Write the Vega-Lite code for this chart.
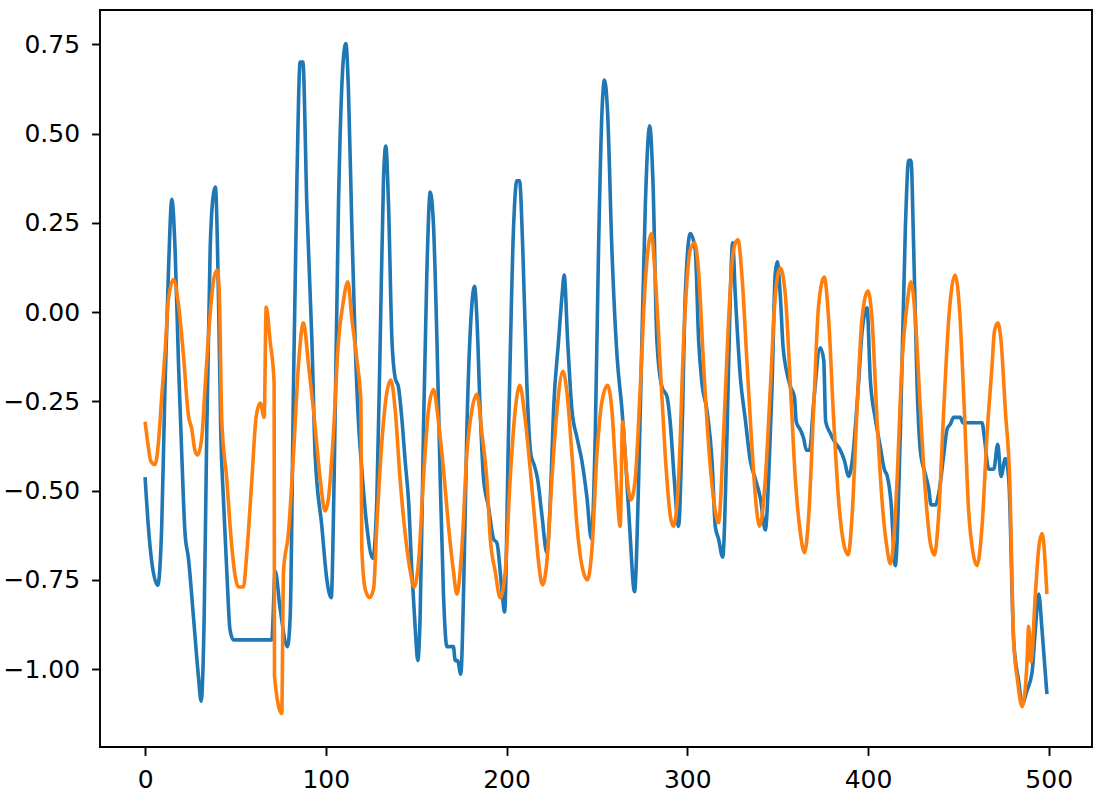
{
  "$schema": "https://vega.github.io/schema/vega-lite/v6.json",
  "width": 992,
  "height": 737,
  "autosize": {"type": "none"},
  "padding": {"left": 100, "top": 10, "right": 16, "bottom": 55},
  "background": "white",
  "config": {
    "view": {"stroke": "black", "strokeWidth": 1.9},
    "axis": {
      "grid": false,
      "domain": false,
      "tickColor": "black",
      "tickWidth": 1.9,
      "tickSize": 8.4,
      "labelFont": "DejaVu Sans",
      "labelFontSize": 25,
      "labelColor": "black",
      "title": null
    }
  },
  "datasets": {
    "blue": [
      {"t":0,"v":-0.462},{"t":1.8,"v":-0.6},{"t":3.7,"v":-0.7},{"t":7,"v":-0.765},{"t":9.2,"v":-0.6},{"t":11,"v":-0.21},{"t":12.9,"v":0.11},{"t":14.8,"v":0.316},{"t":16.6,"v":0.175},{"t":18.5,"v":-0.146},{"t":20.3,"v":-0.4},{"t":22.1,"v":-0.62},{"t":24,"v":-0.69},{"t":26.7,"v":-0.85},{"t":29.5,"v":-1.02},{"t":31,"v":-1.09},{"t":32.7,"v":-0.85},{"t":34.1,"v":-0.34},{"t":36,"v":0.175},{"t":37.8,"v":0.33},{"t":38.9,"v":0.35},{"t":40.6,"v":0.046},{"t":41.9,"v":-0.34},{"t":43.4,"v":-0.53},{"t":45.2,"v":-0.725},{"t":47,"v":-0.89},{"t":48.9,"v":-0.918},{"t":70.1,"v":-0.918},{"t":72,"v":-0.725},{"t":74.7,"v":-0.83},{"t":78.8,"v":-0.937},{"t":80.3,"v":-0.85},{"t":82.1,"v":-0.21},{"t":84,"v":0.368},{"t":85.8,"v":0.7},{"t":87.3,"v":0.7},{"t":89.5,"v":0.3},{"t":92.3,"v":-0.08},{"t":94.1,"v":-0.4},{"t":97.8,"v":-0.6},{"t":100.6,"v":-0.75},{"t":103,"v":-0.8},{"t":104.6,"v":-0.468},{"t":107,"v":0.3},{"t":109.8,"v":0.715},{"t":111.1,"v":0.752},{"t":112.5,"v":0.625},{"t":114.4,"v":0.24},{"t":116.2,"v":-0.08},{"t":118.1,"v":-0.31},{"t":119.9,"v":-0.44},{"t":122.7,"v":-0.6},{"t":126,"v":-0.69},{"t":128.2,"v":-0.53},{"t":130.1,"v":-0.08},{"t":131.9,"v":0.368},{"t":133.2,"v":0.465},{"t":134.7,"v":0.3},{"t":136.6,"v":-0.08},{"t":138.4,"v":-0.185},{"t":140.2,"v":-0.21},{"t":142.1,"v":-0.3},{"t":143.9,"v":-0.417},{"t":145.8,"v":-0.53},{"t":147.6,"v":-0.725},{"t":149.4,"v":-0.88},{"t":150.9,"v":-0.976},{"t":152.2,"v":-0.85},{"t":154,"v":-0.34},{"t":155.9,"v":0.11},{"t":157.8,"v":0.336},{"t":159.6,"v":0.24},{"t":161.5,"v":-0.08},{"t":163.3,"v":-0.468},{"t":165.1,"v":-0.79},{"t":167,"v":-0.937},{"t":170.6,"v":-0.937},{"t":171.6,"v":-0.976},{"t":172.9,"v":-0.976},{"t":174.7,"v":-1.014},{"t":176.2,"v":-0.79},{"t":178,"v":-0.34},{"t":180.8,"v":0.02},{"t":182.3,"v":0.072},{"t":183.6,"v":-0.018},{"t":185.4,"v":-0.275},{"t":187.3,"v":-0.468},{"t":190,"v":-0.545},{"t":192.8,"v":-0.635},{"t":194.7,"v":-0.647},{"t":197.4,"v":-0.776},{"t":198.9,"v":-0.84},{"t":201.1,"v":-0.34},{"t":203.9,"v":0.24},{"t":205.7,"v":0.368},{"t":207.2,"v":0.368},{"t":209,"v":0.175},{"t":211.3,"v":-0.21},{"t":213.5,"v":-0.4},{"t":215.3,"v":-0.428},{"t":217.2,"v":-0.468},{"t":219.6,"v":-0.57},{"t":222.3,"v":-0.674},{"t":224.2,"v":-0.53},{"t":226,"v":-0.275},{"t":228.8,"v":-0.08},{"t":230.7,"v":0.046},{"t":231.9,"v":0.104},{"t":233.8,"v":-0.08},{"t":236.2,"v":-0.275},{"t":239,"v":-0.352},{"t":241.7,"v":-0.417},{"t":244.5,"v":-0.52},{"t":246.9,"v":-0.635},{"t":249.1,"v":-0.34},{"t":250.9,"v":0.175},{"t":252.8,"v":0.56},{"t":254.2,"v":0.65},{"t":255.9,"v":0.56},{"t":258.3,"v":0.175},{"t":261.1,"v":-0.12},{"t":263.9,"v":-0.275},{"t":265.7,"v":-0.4},{"t":268.1,"v":-0.6},{"t":270.8,"v":-0.783},{"t":273.1,"v":-0.468},{"t":274.9,"v":-0.08},{"t":276.8,"v":0.3},{"t":279.2,"v":0.522},{"t":281,"v":0.368},{"t":283.2,"v":-0.08},{"t":286,"v":-0.21},{"t":288.8,"v":-0.237},{"t":290.6,"v":-0.31},{"t":292.8,"v":-0.468},{"t":295.2,"v":-0.6},{"t":297.1,"v":-0.34},{"t":298.9,"v":0.046},{"t":301.7,"v":0.22},{"t":304.4,"v":0.175},{"t":306.3,"v":-0.08},{"t":308.1,"v":-0.198},{"t":310.9,"v":-0.275},{"t":313.7,"v":-0.417},{"t":315.5,"v":-0.6},{"t":317.3,"v":-0.635},{"t":319.6,"v":-0.686},{"t":322,"v":-0.34},{"t":323.8,"v":0.046},{"t":325.1,"v":0.194},{"t":326.6,"v":0.046},{"t":329.4,"v":-0.185},{"t":332.1,"v":-0.3},{"t":334.9,"v":-0.417},{"t":337.7,"v":-0.468},{"t":340.4,"v":-0.52},{"t":343.2,"v":-0.61},{"t":345,"v":-0.468},{"t":346.9,"v":-0.21},{"t":348.7,"v":0.11},{"t":349.8,"v":0.141},{"t":351.5,"v":0.043},{"t":353,"v":-0.097},{"t":354.8,"v":-0.162},{"t":357.1,"v":-0.209},{"t":359.3,"v":-0.237},{"t":360.3,"v":-0.307},{"t":362.6,"v":-0.33},{"t":364.4,"v":-0.354},{"t":365.9,"v":-0.387},{"t":367.7,"v":-0.387},{"t":369.9,"v":-0.256},{"t":373.6,"v":-0.1},{"t":375.5,"v":-0.134},{"t":376.6,"v":-0.307},{"t":379.2,"v":-0.34},{"t":381,"v":-0.359},{"t":384.7,"v":-0.387},{"t":386.9,"v":-0.415},{"t":389.3,"v":-0.46},{"t":391.2,"v":-0.42},{"t":394.9,"v":-0.19},{"t":396.7,"v":-0.056},{"t":399.5,"v":0.012},{"t":401.3,"v":-0.19},{"t":404.1,"v":-0.3},{"t":406.8,"v":-0.377},{"t":409,"v":-0.44},{"t":410.7,"v":-0.46},{"t":412.7,"v":-0.53},{"t":415.1,"v":-0.71},{"t":417.9,"v":-0.34},{"t":420.7,"v":0.24},{"t":422.5,"v":0.425},{"t":423.8,"v":0.425},{"t":425.3,"v":0.175},{"t":427.2,"v":-0.21},{"t":429,"v":-0.39},{"t":431.8,"v":-0.455},{"t":433.6,"v":-0.494},{"t":434.9,"v":-0.54},{"t":437.3,"v":-0.54},{"t":439.2,"v":-0.507},{"t":441.9,"v":-0.4},{"t":443.8,"v":-0.327},{"t":445.6,"v":-0.314},{"t":447.4,"v":-0.295},{"t":451.1,"v":-0.295},{"t":452.6,"v":-0.31},{"t":463.1,"v":-0.31},{"t":464.4,"v":-0.352},{"t":466.8,"v":-0.44},{"t":469.6,"v":-0.44},{"t":471.8,"v":-0.37},{"t":473.6,"v":-0.46},{"t":476,"v":-0.41},{"t":477.9,"v":-0.468},{"t":480.6,"v":-0.92},{"t":483.4,"v":-1.034},{"t":485.3,"v":-1.098},{"t":488,"v":-1.06},{"t":490.8,"v":-1.008},{"t":492.6,"v":-0.89},{"t":494.5,"v":-0.79},{"t":496.3,"v":-0.89},{"t":499,"v":-1.07}
    ],
    "orange": [
      {"t":0,"v":-0.307},{"t":1.8,"v":-0.378},{"t":3.1,"v":-0.417},{"t":5.5,"v":-0.427},{"t":7.4,"v":-0.365},{"t":9.2,"v":-0.237},{"t":11.1,"v":-0.108},{"t":12.9,"v":0.034},{"t":15.7,"v":0.091},{"t":18.5,"v":0.02},{"t":21.2,"v":-0.12},{"t":24,"v":-0.29},{"t":25.8,"v":-0.327},{"t":27.7,"v":-0.39},{"t":29.1,"v":-0.4},{"t":31.4,"v":-0.35},{"t":33.2,"v":-0.21},{"t":36,"v":-0.005},{"t":38.2,"v":0.098},{"t":40,"v":0.118},{"t":41.1,"v":0.046},{"t":42.4,"v":-0.3},{"t":45.2,"v":-0.468},{"t":47,"v":-0.597},{"t":49.8,"v":-0.738},{"t":51.7,"v":-0.77},{"t":54.4,"v":-0.77},{"t":56.3,"v":-0.674},{"t":59.1,"v":-0.468},{"t":61.4,"v":-0.295},{"t":63.7,"v":-0.255},{"t":65.9,"v":-0.295},{"t":67,"v":0.014},{"t":69.2,"v":-0.082},{"t":71.4,"v":-0.198},{"t":71.6,"v":-1.02},{"t":75.6,"v":-1.124},{"t":76.6,"v":-0.725},{"t":79.3,"v":-0.62},{"t":82.1,"v":-0.4},{"t":84.9,"v":-0.146},{"t":87.6,"v":-0.03},{"t":90.4,"v":-0.146},{"t":93.2,"v":-0.275},{"t":96.9,"v":-0.468},{"t":99.6,"v":-0.557},{"t":101.5,"v":-0.52},{"t":104.2,"v":-0.34},{"t":107,"v":-0.08},{"t":109.4,"v":0.02},{"t":112.2,"v":0.085},{"t":114.4,"v":-0.018},{"t":117.2,"v":-0.134},{"t":119.4,"v":-0.25},{"t":119.9,"v":-0.66},{"t":121.8,"v":-0.776},{"t":124.2,"v":-0.8},{"t":126.4,"v":-0.776},{"t":128.2,"v":-0.6},{"t":131,"v":-0.365},{"t":133.8,"v":-0.224},{"t":136,"v":-0.19},{"t":138.4,"v":-0.275},{"t":141.1,"v":-0.468},{"t":143.9,"v":-0.62},{"t":146.7,"v":-0.725},{"t":148.9,"v":-0.77},{"t":151.3,"v":-0.7},{"t":154,"v":-0.468},{"t":156.8,"v":-0.275},{"t":159.6,"v":-0.217},{"t":162.4,"v":-0.31},{"t":165.1,"v":-0.44},{"t":167.9,"v":-0.6},{"t":170.6,"v":-0.725},{"t":172.5,"v":-0.79},{"t":175.3,"v":-0.66},{"t":178,"v":-0.4},{"t":180.8,"v":-0.275},{"t":183.6,"v":-0.23},{"t":186.4,"v":-0.34},{"t":189.1,"v":-0.468},{"t":191,"v":-0.635},{"t":193.7,"v":-0.725},{"t":196.5,"v":-0.8},{"t":199.3,"v":-0.725},{"t":202,"v":-0.468},{"t":204.8,"v":-0.275},{"t":207.3,"v":-0.205},{"t":210.3,"v":-0.3},{"t":213.1,"v":-0.44},{"t":215.9,"v":-0.6},{"t":217.7,"v":-0.7},{"t":219.9,"v":-0.764},{"t":222.3,"v":-0.7},{"t":225.1,"v":-0.468},{"t":227.9,"v":-0.275},{"t":231.2,"v":-0.166},{"t":233.4,"v":-0.224},{"t":236.2,"v":-0.4},{"t":239,"v":-0.6},{"t":241.7,"v":-0.71},{"t":244.8,"v":-0.75},{"t":247.3,"v":-0.66},{"t":250,"v":-0.4},{"t":252.8,"v":-0.25},{"t":255.9,"v":-0.205},{"t":258.3,"v":-0.275},{"t":260.7,"v":-0.468},{"t":262.9,"v":-0.6},{"t":264.2,"v":-0.307},{"t":266.2,"v":-0.44},{"t":268.8,"v":-0.526},{"t":271.2,"v":-0.468},{"t":274,"v":-0.21},{"t":276.8,"v":0.085},{"t":280.1,"v":0.22},{"t":282.3,"v":0.098},{"t":285,"v":-0.146},{"t":287.8,"v":-0.4},{"t":290.6,"v":-0.57},{"t":292.4,"v":-0.6},{"t":295.2,"v":-0.468},{"t":298,"v":-0.08},{"t":301.7,"v":0.175},{"t":304.1,"v":0.194},{"t":306.3,"v":0.11},{"t":309,"v":-0.146},{"t":310.2,"v":-0.25},{"t":312.7,"v":-0.43},{"t":315.5,"v":-0.557},{"t":317.3,"v":-0.59},{"t":320.1,"v":-0.34},{"t":322.9,"v":-0.018},{"t":325.6,"v":0.175},{"t":328.1,"v":0.203},{"t":330.3,"v":0.098},{"t":333.1,"v":-0.146},{"t":335.8,"v":-0.378},{"t":338.2,"v":-0.545},{"t":340,"v":-0.6},{"t":343.2,"v":-0.468},{"t":346,"v":-0.21},{"t":348.7,"v":0.046},{"t":351.5,"v":0.123},{"t":354.3,"v":0.046},{"t":357.1,"v":-0.21},{"t":359.8,"v":-0.468},{"t":362.6,"v":-0.62},{"t":364.9,"v":-0.674},{"t":367.2,"v":-0.57},{"t":369.9,"v":-0.275},{"t":372.7,"v":0.02},{"t":375.8,"v":0.098},{"t":378.2,"v":-0.018},{"t":381,"v":-0.3},{"t":383.8,"v":-0.53},{"t":386.5,"v":-0.647},{"t":389,"v":-0.68},{"t":391.2,"v":-0.57},{"t":393.9,"v":-0.275},{"t":396.7,"v":-0.018},{"t":400,"v":0.059},{"t":402.2,"v":-0.018},{"t":405,"v":-0.3},{"t":407.8,"v":-0.53},{"t":410.5,"v":-0.66},{"t":412.4,"v":-0.705},{"t":414.5,"v":-0.62},{"t":416.1,"v":-0.468},{"t":418.8,"v":-0.146},{"t":421.6,"v":0.02},{"t":423.8,"v":0.085},{"t":426.2,"v":-0.018},{"t":429,"v":-0.275},{"t":431.8,"v":-0.507},{"t":434.5,"v":-0.647},{"t":436.7,"v":-0.68},{"t":439.1,"v":-0.57},{"t":441.9,"v":-0.275},{"t":444.7,"v":-0.018},{"t":448.2,"v":0.104},{"t":450.8,"v":-0.005},{"t":453.3,"v":-0.275},{"t":455.7,"v":-0.557},{"t":458.1,"v":-0.674},{"t":460.3,"v":-0.71},{"t":463.1,"v":-0.6},{"t":465.9,"v":-0.34},{"t":468.7,"v":-0.146},{"t":469.9,"v":-0.056},{"t":471.8,"v":-0.03},{"t":473.6,"v":-0.08},{"t":476,"v":-0.275},{"t":478.4,"v":-0.468},{"t":480.6,"v":-0.92},{"t":482.8,"v":-1.034},{"t":485.3,"v":-1.105},{"t":488,"v":-0.98},{"t":488.9,"v":-0.88},{"t":490.2,"v":-0.98},{"t":492.6,"v":-0.79},{"t":494.5,"v":-0.66},{"t":496.3,"v":-0.62},{"t":499,"v":-0.79}
    ]
  },
  "encoding": {
    "x": {
      "field": "t", "type": "quantitative",
      "scale": {"domain": [-24.95, 523.95], "nice": false, "zero": false},
      "axis": {"values": [0, 100, 200, 300, 400, 500], "labelPadding": 12, "labelFlush": false}
    },
    "y": {
      "field": "v", "type": "quantitative",
      "scale": {"domain": [-1.218, 0.846], "nice": false, "zero": false},
      "axis": {"values": [-1, -0.75, -0.5, -0.25, 0, 0.25, 0.5, 0.75], "format": ".2f", "labelPadding": 12, "labelFlush": false}
    }
  },
  "layer": [
    {
      "data": {"name": "blue"},
      "mark": {"type": "line", "color": "#1f77b4", "strokeWidth": 3.6, "interpolate": "monotone", "strokeJoin": "round", "clip": true}
    },
    {
      "data": {"name": "orange"},
      "mark": {"type": "line", "color": "#ff7f0e", "strokeWidth": 3.6, "interpolate": "monotone", "strokeJoin": "round", "clip": true}
    }
  ]
}
